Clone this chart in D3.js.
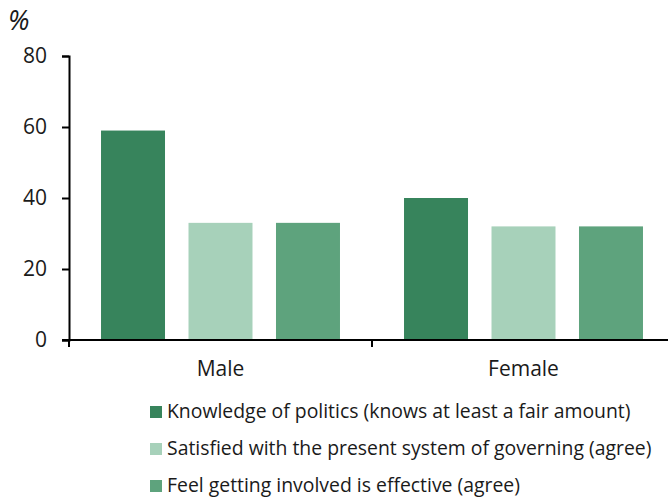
<!DOCTYPE html>
<html>
<head>
<meta charset="utf-8">
<script src="https://cdn.jsdelivr.net/npm/d3@7"></script>
<style>
  html, body { margin: 0; padding: 0; background: #fff; }
  svg { display: block; font-family: "Open Sans", sans-serif; }
</style>
</head>
<body>
<svg id="chart" width="668" height="502"></svg>
<script>
// Political engagement by sex, % of respondents
const categories = ["Male", "Female"];
const seriesNames = [
  "Knowledge of politics (knows at least a fair amount)",
  "Satisfied with the present system of governing (agree)",
  "Feel getting involved is effective (agree)"
];
const knowledge = [59, 40];
const satisfied = [33, 32];
const effective = [33, 32];
const yTicks = [0, 20, 40, 60, 80];
const colors = ["#37845c", "#a7d1ba", "#5ea37d"];

const seriesValues = [knowledge, satisfied, effective];

const svg = d3.select("#chart");
const margin = { left: 69, top: 56, bottom: 340 };

const y = d3.scaleLinear().domain([0, 80]).range([margin.bottom, margin.top]);
const x0 = d3.scaleBand().domain(categories).range([margin.left, 675]).paddingInner(0).paddingOuter(0);
const x1 = d3.scaleBand().domain(d3.range(seriesNames.length))
  .range([0, x0.bandwidth()]).paddingInner(0.2686).paddingOuter(0.366);

// bars
const groups = svg.append("g").selectAll("g")
  .data(categories)
  .join("g")
  .attr("transform", d => `translate(${x0(d)},0)`);

groups.selectAll("rect")
  .data((c, ci) => seriesValues.map((vals, si) => ({ si, v: vals[ci] })))
  .join("rect")
  .attr("x", d => x1(d.si))
  .attr("width", x1.bandwidth())
  .attr("y", d => y(d.v))
  .attr("height", d => y(0) - y(d.v))
  .attr("fill", d => colors[d.si]);

// y axis
const yAxis = svg.append("g")
  .attr("transform", `translate(${margin.left},0)`)
  .call(d3.axisLeft(y).tickValues(yTicks).tickSize(7).tickPadding(15));
yAxis.select(".domain").attr("stroke", "#000").attr("stroke-width", 2);
yAxis.selectAll(".tick line").attr("stroke", "#000").attr("stroke-width", 2);
yAxis.selectAll(".tick text")
  .attr("fill", "#1a1a1a")
  .style("font-size", "21px")
  .style("font-family", "'Open Sans', sans-serif");

// x axis with ticks at category boundaries
const xAxis = svg.append("g").attr("transform", `translate(0,${y(0)})`);
xAxis.append("line")
  .attr("x1", margin.left - 7).attr("x2", 675)
  .attr("stroke", "#000").attr("stroke-width", 2);
xAxis.selectAll("line.bound")
  .data(categories)
  .join("line")
  .attr("class", "bound")
  .attr("x1", d => x0(d)).attr("x2", d => x0(d))
  .attr("y1", 0).attr("y2", 7)
  .attr("stroke", "#000").attr("stroke-width", 2);
xAxis.selectAll("text")
  .data(categories)
  .join("text")
  .attr("x", d => x0(d) + x0.bandwidth() / 2)
  .attr("y", 36)
  .attr("text-anchor", "middle")
  .attr("fill", "#1a1a1a")
  .style("font-size", "21px")
  .text(d => d);

// unit label
svg.append("text")
  .attr("x", 8).attr("y", 30)
  .attr("fill", "#1a1a1a")
  .style("font-size", "27px")
  .style("font-style", "italic")
  .text("%");

// legend
const legend = svg.append("g").selectAll("g")
  .data(seriesNames)
  .join("g")
  .attr("transform", (d, i) => `translate(150,${418 + i * 37})`);
legend.append("rect")
  .attr("x", 0).attr("y", -12)
  .attr("width", 12).attr("height", 12)
  .attr("fill", (d, i) => colors[i]);
legend.append("text")
  .attr("x", 17).attr("y", 0)
  .attr("fill", "#1a1a1a")
  .style("font-size", "19.4px")
  .text(d => d);
</script>
</body>
</html>
